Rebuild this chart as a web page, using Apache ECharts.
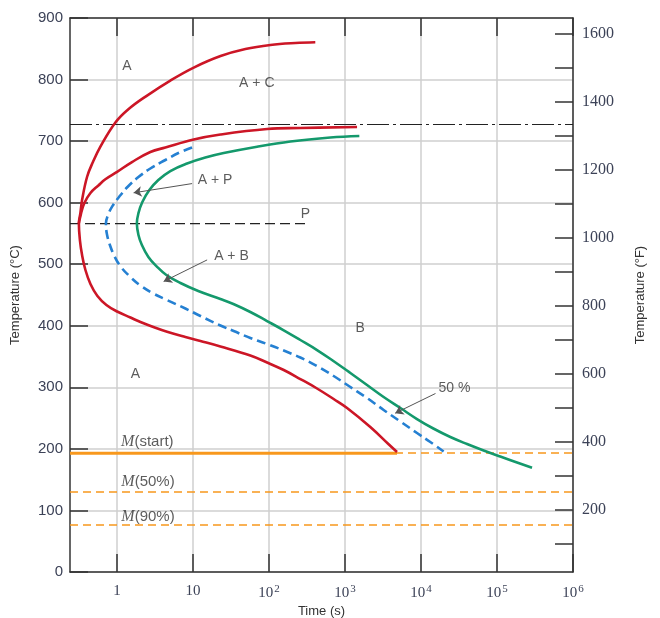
<!DOCTYPE html>
<html>
<head>
<meta charset="utf-8">
<script src="https://cdn.jsdelivr.net/npm/echarts@6/dist/echarts.min.js"></script>
<style>
html,body{margin:0;padding:0;background:#fff;}
#chart{width:660px;height:618px;}
</style>
</head>
<body>
<div id="chart"></div>
<script>
// ---------- axis data ----------
const timeMinSeconds = 0.24;          // left edge of the time axis (s)
const timeMaxSeconds = 1e6;           // right edge of the time axis (s)
const timeTickExponents = [0, 1, 2, 3, 4, 5, 6];   // ticks at 10^n s
const tempCMin = 0, tempCMax = 900, tempCStep = 100;
const tempFMin = 18, tempFMax = 1645;
const tempFTicks = [100, 200, 300, 400, 500, 600, 700, 800, 900, 1000, 1100, 1200, 1300, 1400, 1500, 1600];
const tempFLabels = [200, 400, 600, 800, 1000, 1200, 1400, 1600];

// ---------- curves: [time (s), temperature (°C)] ----------
// start curve incl. proeutectoid cementite branch (top) through the nose down to M(start)
const redStartOuter = [
  [406, 860.5], [222, 859.3], [104, 856.1], [48.8, 849.6], [23.0, 838.2], [10.2, 819.5],
  [5.02, 798.4], [2.48, 774], [1.42, 752.1], [0.95, 730.2], [0.603, 690.9],
  [0.481, 666], [0.403, 642.1], [0.346, 604.3], [0.329, 583.2], [0.314, 566.4],
  [0.324, 539.3], [0.346, 514.9], [0.383, 490.6], [0.446, 467.9], [0.551, 448.4],
  [0.723, 433.7], [1.0, 423.2], [1.50, 413.4], [2.03, 406.1], [3.19, 396.7],
  [4.55, 390.2], [7.92, 381.7], [12.5, 375.2], [22.9, 366.3], [56.7, 351.7],
  [94.2, 340.3], [156, 328.1], [258, 313.5], [428, 298.1], [708, 281], [1063, 266.4],
  [2150, 235.5], [3715, 207.9], [4830, 194.9]
];
// pearlite start branch from the nose
const redStartPearlite = [
  [0.314, 566.4], [0.334, 581.5], [0.371, 599.4], [0.446, 615.7], [0.568, 628],
  [0.701, 638], [1.0, 650], [1.57, 666], [2.74, 682.3], [4.32, 689.6], [10.2, 702.6],
  [22.9, 710.7], [94.2, 719.6], [258, 721.3], [1439, 722.9]
];
// 50 % transformation curve
const blueHalf = [
  [9.70, 689.6], [6.41, 680.6], [4.32, 669.3], [2.74, 655.5], [1.91, 641.6], [1.37, 625.4],
  [1.06, 609.2], [0.867, 594.4], [0.769, 581.4], [0.713, 566.4], [0.734, 549.1],
  [0.804, 531.2], [0.921, 513.3], [1.10, 497.1], [1.45, 480.8], [2.03, 465.4],
  [3.00, 452.4], [4.55, 441.8], [7.92, 428], [12.5, 415.9], [22.9, 400.4], [34.2, 391.5],
  [56.7, 380.1], [94.2, 370.4], [156, 359.8], [258, 348.4], [428, 334.6], [708, 318.4],
  [1175, 300.5], [1946, 282.7], [3221, 263.2], [5346, 244.5], [8851, 225.8],
  [13240, 211.2], [19830, 195.7]
];
// finish curve
const greenFinish = [
  [1542, 708.3], [641, 705.8], [191, 699.3], [69.5, 690.9], [25.3, 680.6], [14.5, 673.3],
  [8.34, 663.6], [5.02, 651.4], [3.49, 636.8], [2.66, 620.5], [2.15, 601], [1.91, 583],
  [1.82, 566.4], [1.91, 547.4], [2.12, 531.2], [2.58, 511.7], [3.29, 497], [4.45, 482.5],
  [6.82, 469.5], [11.7, 456.5], [22.9, 443.5], [33.9, 435.4], [56.7, 422.4], [94, 407.7],
  [154, 393.1], [258, 376.9], [428, 360.6], [702, 342.8], [1175, 323.3], [1946, 303.8],
  [3221, 284.3], [5346, 266.4], [8851, 248.5], [14520, 233.1], [24300, 219.3],
  [40300, 207.9], [66700, 197.4], [110400, 187.6], [289000, 169.4]
];

// ---------- horizontal reference lines (°C) ----------
const eutectoidTemp = 727;
const pearliteBainiteTemp = 566;
const pearliteLineEndSeconds = 331;
const mStartTemp = 193;
const mStartSolidEndSeconds = 4830;
const m50Temp = 130;
const m90Temp = 76;

// ---------- annotations ----------
const regionLabels = [
  { text: 'A', t: 1.35, T: 821 },
  { text: 'A + C', t: 69, T: 794 },
  { text: 'A + P', t: 19.5, T: 636 },
  { text: 'P', t: 302, T: 582 },
  { text: 'A + B', t: 32, T: 513 },
  { text: 'B', t: 1585, T: 396 },
  { text: 'A', t: 1.74, T: 321 },
  { text: '50 %', t: 27500, T: 299 }
];
const martensiteLabels = [
  { text: '(start)', t: 2.5, T: 211 },
  { text: '(50%)', t: 2.55, T: 146 },
  { text: '(90%)', t: 2.55, T: 90 }
];
const arrows = [
  { from: [9.7, 631], to: [1.65, 616] },
  { from: [15.3, 507], to: [4.1, 472] },
  { from: [15500, 290], to: [4570, 258] }
];

// ---------- build ----------
const lg = v => Math.log10(v);
const toLog = pts => pts.map(p => [lg(p[0]), p[1]]);
const xMin = lg(timeMinSeconds), xMax = lg(timeMaxSeconds);

const RED = '#cc1626', GREEN = '#14996c', BLUE = '#2580d2', ORANGE = '#f8981d';
const LABEL_COLOR = '#3c4257';

function curve(name, data, color, dashed) {
  return {
    name, type: 'line', data: toLog(data), smooth: 0.4, showSymbol: false, symbol: 'none',
    lineStyle: { color, width: 2.6, type: dashed ? [9, 5] : 'solid', cap: 'butt', join: 'round' },
    z: 5, silent: true
  };
}

const chart = echarts.init(document.getElementById('chart'), null, { renderer: 'canvas' });
const axisLineStyle = { color: '#333', width: 1.5 };
const option = {
  animation: false,
  backgroundColor: '#ffffff',
  grid: { left: 70, right: 87, top: 18, bottom: 46, containLabel: false, outerBoundsMode: 'none' },
  xAxis: [
    {
      type: 'value', min: xMin, max: xMax, position: 'bottom',
      name: 'Time (s)', nameLocation: 'middle', nameGap: 33,
      nameTextStyle: { fontFamily: 'Liberation Sans', fontSize: 13, color: '#333' },
      axisLine: { show: true, onZero: false, lineStyle: axisLineStyle },
      axisTick: { show: true, inside: true, length: 18, customValues: timeTickExponents, lineStyle: axisLineStyle },
      axisLabel: {
        customValues: timeTickExponents, margin: 12, color: LABEL_COLOR,
        fontFamily: 'Liberation Serif', fontSize: 15,
        formatter: v => {
          const e = Math.round(v);
          if (e === 0) return '1';
          if (e === 1) return '10';
          return '10{s|' + e + '}';
        },
        rich: { s: { fontSize: 11, fontFamily: 'Liberation Serif', color: LABEL_COLOR, verticalAlign: 'top', padding: [0, 0, 7, 1] } }
      },
      splitLine: { show: true, lineStyle: { color: '#cfcfcf', width: 1.5 } }
    },
    {
      type: 'value', min: xMin, max: xMax, position: 'top',
      axisLine: { show: true, onZero: false, lineStyle: axisLineStyle },
      axisTick: { show: true, inside: true, length: 18, customValues: timeTickExponents, lineStyle: axisLineStyle },
      axisLabel: { show: false },
      splitLine: { show: false }
    }
  ],
  yAxis: [
    {
      type: 'value', min: tempCMin, max: tempCMax, interval: tempCStep, position: 'left',
      name: 'Temperature (°C)', nameLocation: 'middle', nameGap: 48, nameRotate: 90,
      nameTextStyle: { fontFamily: 'Liberation Sans', fontSize: 13, color: '#333' },
      axisLine: { show: true, onZero: false, lineStyle: axisLineStyle },
      axisTick: { show: true, inside: true, length: 18, lineStyle: axisLineStyle },
      axisLabel: { margin: 7, color: LABEL_COLOR, fontFamily: 'Liberation Sans', fontSize: 15 },
      splitLine: { show: true, lineStyle: { color: '#cfcfcf', width: 1.5 } }
    },
    {
      type: 'value', min: tempFMin, max: tempFMax, position: 'right',
      name: 'Temperature (°F)', nameLocation: 'middle', nameGap: 61, nameRotate: 90,
      nameTextStyle: { fontFamily: 'Liberation Sans', fontSize: 13, color: '#333' },
      axisLine: { show: true, onZero: false, lineStyle: axisLineStyle },
      axisTick: { show: true, inside: true, length: 18, customValues: tempFTicks, lineStyle: axisLineStyle },
      axisLabel: {
        customValues: tempFLabels, margin: 9, color: LABEL_COLOR, fontFamily: 'Liberation Serif', fontSize: 16,
        formatter: v => String(Math.round(v))
      },
      splitLine: { show: false }
    }
  ],
  series: [
    // eutectoid dash-dot line and martensite dashed lines
    {
      type: 'line', data: [], silent: true, z: 3,
      markLine: {
        silent: true, symbol: ['none', 'none'], label: { show: false }, animation: false,
        data: [
          { yAxis: eutectoidTemp, lineStyle: { color: '#222', width: 1.2, type: [22, 4, 3, 4] } },
          { yAxis: mStartTemp, lineStyle: { color: ORANGE, width: 1.5, type: [8, 5] } },
          { yAxis: m50Temp, lineStyle: { color: ORANGE, width: 1.5, type: [8, 5] } },
          { yAxis: m90Temp, lineStyle: { color: ORANGE, width: 1.5, type: [8, 5] } }
        ]
      }
    },
    {
      type: 'line', silent: true, showSymbol: false, symbol: 'none', z: 3,
      data: [[xMin, pearliteBainiteTemp], [lg(pearliteLineEndSeconds), pearliteBainiteTemp]],
      lineStyle: { color: '#222', width: 1.2, type: [10, 5] }
    },
    {
      type: 'line', silent: true, showSymbol: false, symbol: 'none', z: 4,
      data: [[xMin, mStartTemp], [lg(mStartSolidEndSeconds), mStartTemp]],
      lineStyle: { color: ORANGE, width: 3 }
    },
    curve('start', redStartOuter, RED, false),
    curve('start-pearlite', redStartPearlite, RED, false),
    curve('50%', blueHalf, BLUE, true),
    curve('finish', greenFinish, GREEN, false),
    {
      type: 'lines', coordinateSystem: 'cartesian2d', silent: true, z: 6,
      symbol: ['none', 'arrow'], symbolSize: 8,
      lineStyle: { color: '#555', width: 1, opacity: 1 },
      data: arrows.map(a => ({ coords: [[lg(a.from[0]), a.from[1]], [lg(a.to[0]), a.to[1]]] }))
    },
    {
      type: 'scatter', silent: true, symbolSize: 0, z: 7,
      data: regionLabels.map(l => ({ value: [lg(l.t), l.T], name: l.text })),
      label: {
        show: true, position: 'inside', formatter: p => p.name,
        fontFamily: 'Liberation Sans', fontSize: 14, color: '#333'
      }
    },
    {
      type: 'scatter', silent: true, symbolSize: 0, z: 7,
      data: martensiteLabels.map(l => ({ value: [lg(l.t), l.T], name: l.text })),
      label: {
        show: true, position: 'inside', formatter: p => '{m|M}' + p.name,
        fontFamily: 'Liberation Sans', fontSize: 15, color: '#333',
        rich: { m: { fontFamily: 'Liberation Serif', fontStyle: 'italic', fontSize: 16, color: '#333' } }
      }
    }
  ]
};
chart.setOption(option);
</script>
</body>
</html>
